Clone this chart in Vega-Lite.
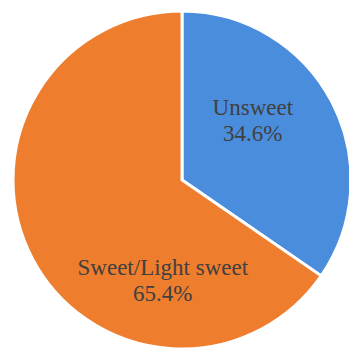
{
  "$schema": "https://vega.github.io/schema/vega-lite/v6.json",
  "width": 364,
  "height": 360,
  "padding": 0,
  "autosize": {"type": "none"},
  "background": "white",
  "view": {"stroke": null},
  "data": {"values": [
    {"category": "Unsweet", "value": 34.6, "label": "Unsweet\n34.6%"},
    {"category": "Sweet/Light sweet", "value": 65.4, "label": "Sweet/Light sweet\n65.4%"}
  ]},
  "encoding": {
    "theta": {"field": "value", "type": "quantitative", "stack": true},
    "order": {"field": "value", "type": "quantitative", "sort": "ascending"}
  },
  "layer": [
    {
      "mark": {"type": "arc", "outerRadius": 169, "stroke": "white", "strokeWidth": 3},
      "encoding": {
        "color": {"field": "category", "type": "nominal",
          "scale": {"domain": ["Unsweet", "Sweet/Light sweet"], "range": ["#4A8DDC", "#EE7D2E"]},
          "legend": null}
      }
    },
    {
      "transform": [{"filter": "datum.category === 'Unsweet'"}],
      "mark": {"type": "text", "radius": 80, "dy": -35, "font": "Liberation Serif", "fontSize": 23, "color": "#404040", "lineBreak": "\n", "lineHeight": 26, "align": "center", "baseline": "middle"},
      "encoding": {"text": {"field": "label"}}
    },
    {
      "transform": [{"filter": "datum.category !== 'Unsweet'"}],
      "mark": {"type": "text", "radius": 80, "dx": -90, "dy": 51, "font": "Liberation Serif", "fontSize": 23, "color": "#404040", "lineBreak": "\n", "lineHeight": 26, "align": "center", "baseline": "middle"},
      "encoding": {"text": {"field": "label"}}
    }
  ]
}
